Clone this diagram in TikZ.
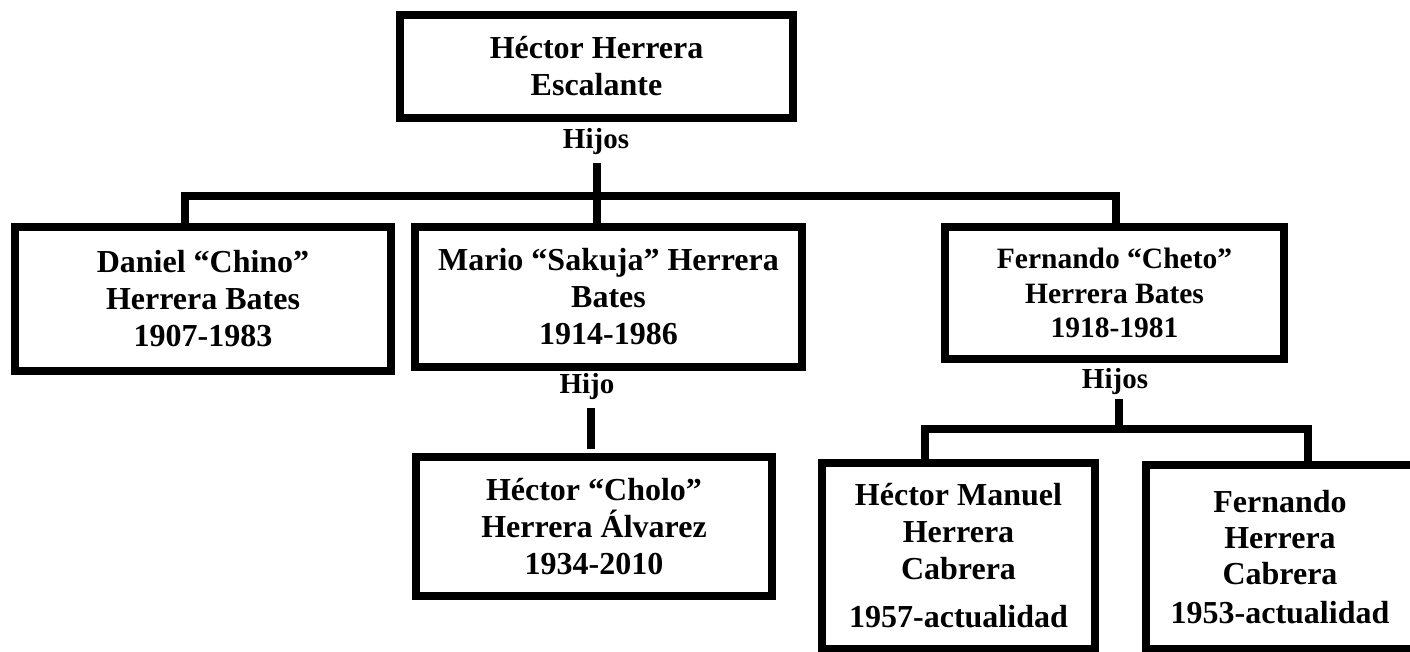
\documentclass[tikz,border=0pt]{standalone}
\usepackage{fontspec}
\setmainfont{Liberation Serif}
\usepackage{tikz}

\tikzset{
  person/.style={draw, line width=8pt, align=center, inner sep=0pt,
    font=\fontsize{32}{37}\selectfont\bfseries},
  rel/.style={inner sep=0pt, font=\fontsize{29}{34}\selectfont\bfseries},
  conn/.style={line width=8pt}
}

\begin{document}
\begin{tikzpicture}[x=1pt, y=-1pt]
			%%%%% START %%%%%
			\useasboundingbox (0,0) rectangle (1410,652);
			
			\node[person, minimum width=393pt, minimum height=103pt] (hector) at (596.5,66.5) {Héctor Herrera\\Escalante};
			\node[rel] (hijosA) at (596,142) {Hijos};
			
			\node[person, minimum width=376pt, minimum height=144pt] (daniel) at (203,299) {Daniel “Chino”\\Herrera Bates\\1907-1983};
			\node[person, minimum width=387pt, minimum height=140pt] (mario) at (608.5,297) {Mario “Sakuja” Herrera\\Bates\\1914-1986};
			\node[person, minimum width=339pt, minimum height=132pt, font=\fontsize{29.5}{34.5}\selectfont\bfseries] (cheto) at (1114.5,293) {Fernando “Cheto”\\Herrera Bates\\1918-1981};
			
			\coordinate (hA) at (597,163);
			\coordinate (busL) at (185,196);
			\coordinate (busR) at (1116,196);
			\draw[conn] (hA) -- (hA |- mario.north);
			\draw[conn] (daniel.north -| busL) -- (busL) -- (busR) -- (cheto.north -| busR);
			
			\node[rel] (hijo) at (587,387) {Hijo};
			\node[person, minimum width=356pt, minimum height=139pt] (cholo) at (594,526.5) {Héctor “Cholo”\\Herrera Álvarez\\1934-2010};
			
			\coordinate (hB) at (591,408);
			\coordinate (hC) at (591,449);
			\draw[conn] (hB) -- (hC);
			
			\node[rel] (hijosC) at (1115,382) {Hijos};
			\node[person, minimum width=273pt, minimum height=186pt] (manuel) at (958.5,556) {Héctor Manuel\\Herrera\\Cabrera\\[11pt]1957-actualidad};
			\node[person, minimum width=268pt, minimum height=184pt, font=\fontsize{32}{36}\selectfont\bfseries] (fernando) at (1280,557) {Fernando\\Herrera\\Cabrera\\[3pt]1953-actualidad};
			
			\coordinate (hD) at (1119,399);
			\coordinate (barL) at (925,429);
			\coordinate (barR) at (1308,429);
			\draw[conn] (hD) -- (hD |- barL);
			\draw[conn] (manuel.north -| barL) -- (barL) -- (barR) -- (fernando.north -| barR);
			%%%%% END %%%%%
\end{tikzpicture}
\end{document}
